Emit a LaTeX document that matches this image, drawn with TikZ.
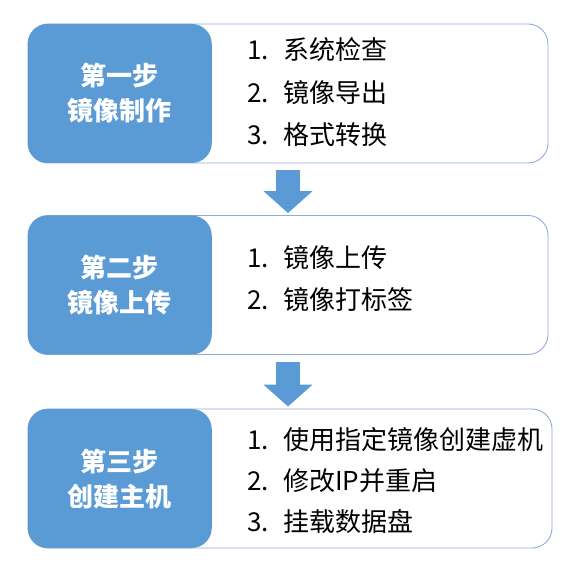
\documentclass[tikz,border=0pt]{standalone}
\usepackage{fontspec}
\setmainfont{Noto Sans CJK SC}
\usepackage{xcolor}
\usetikzlibrary{arrows.meta}
\definecolor{stepblue}{HTML}{5B9BD5}
\definecolor{frameblue}{HTML}{8FAADC}

\begin{document}
\begin{tikzpicture}[x=1pt, y=1pt,
    outer/.style={draw=frameblue, line width=0.9pt, rounded corners=20pt, minimum height=139pt, fill=white},
    stepbox/.style={fill=stepblue, rounded corners=20pt, minimum width=184pt, minimum height=139pt, anchor=west, text=white, font=\fontsize{26}{35}\selectfont\bfseries, align=center},
    item/.style={anchor=west, inner sep=0pt, font=\fontsize{26}{30}\selectfont},
    flow/.style={stepblue, line width=24pt, -{Triangle[width=48pt, length=22pt]}, shorten <=7pt, shorten >=2pt}]
    \useasboundingbox (0,0) rectangle (577,567);
    % step 1
    \node[outer, minimum width=520pt] (out1) at (288,473.5) {};
    \node[stepbox] (step1) at (out1.west) {第一步\\镜像制作};
    \node[item] (s1a) at (247,517) {\makebox[36pt][l]{1.}系统检查};
    \node[item] (s1b) at (247,474) {\makebox[36pt][l]{2.}镜像导出};
    \node[item] (s1c) at (247,432) {\makebox[36pt][l]{3.}格式转换};
    % step 2
    \node[outer, minimum width=520pt] (out2) at (288,282) {};
    \node[stepbox] (step2) at (out2.west) {第二步\\镜像上传};
    \node[item] (s2a) at (247,309) {\makebox[36pt][l]{1.}镜像上传};
    \node[item] (s2b) at (247,267) {\makebox[36pt][l]{2.}镜像打标签};
    % step 3
    \node[outer, minimum width=524pt] (out3) at (290,88.5) {};
    \node[stepbox] (step3) at (out3.west) {第三步\\创建主机};
    \node[item] (s3a) at (247,127) {\makebox[36pt][l]{1.}使用指定镜像创建虚机};
    \node[item] (s3b) at (247,86) {\makebox[36pt][l]{2.}修改IP并重启};
    \node[item] (s3c) at (247,45) {\makebox[36pt][l]{3.}挂载数据盘};
    % arrows between steps
    \draw[flow] (out1.south) -- (out2.north);
    \draw[flow] (out2.south) -- (out3.north -| out2.south);
\end{tikzpicture}
\end{document}
